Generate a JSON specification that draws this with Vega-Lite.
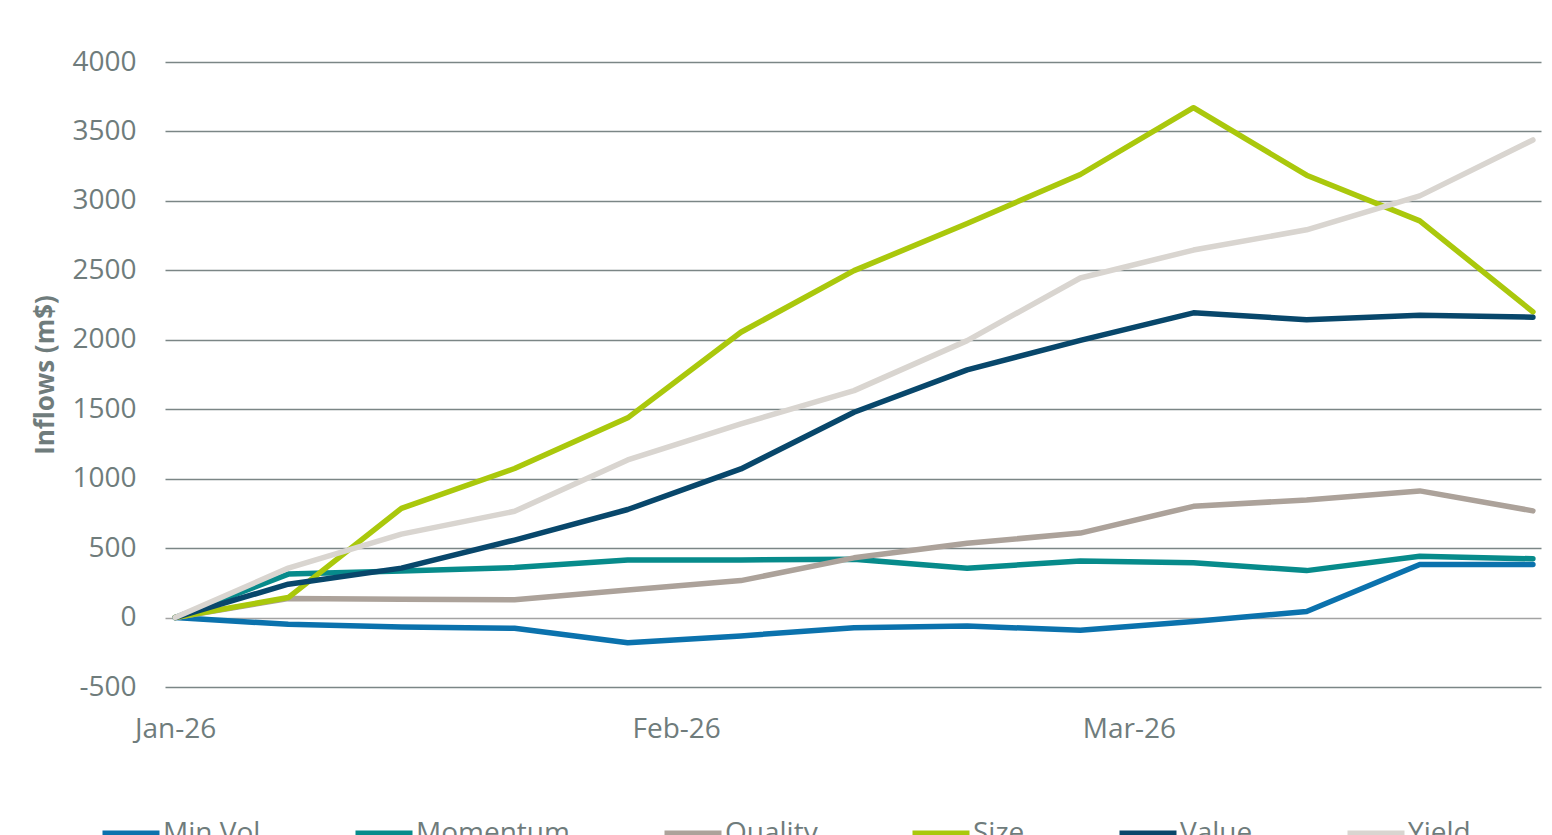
{
  "$schema": "https://vega.github.io/schema/vega-lite/v6.json",
  "width": 1376,
  "height": 625,
  "autosize": {"type": "none"},
  "padding": {"left": 165, "top": 62, "right": 11, "bottom": 148},
  "background": "#ffffff",
  "config": {
    "view": {"stroke": null},
    "font": "Open Sans",
    "axis": {"labelFont": "Open Sans", "titleFont": "Open Sans", "labelColor": "#6f7c7c", "titleColor": "#6f7c7c"},
    "legend": {"labelFont": "Open Sans"}
  },
  "data": {
    "values": [
      {"date": "2026-01-01", "Min Vol": 0, "Momentum": 0, "Quality": 0, "Size": 0, "Value": 0, "Yield": 0},
      {"date": "2026-01-08", "Min Vol": -49, "Momentum": 313, "Quality": 137, "Size": 144, "Value": 240, "Yield": 356},
      {"date": "2026-01-15", "Min Vol": -68, "Momentum": 336, "Quality": 132, "Size": 786, "Value": 356, "Yield": 601},
      {"date": "2026-01-22", "Min Vol": -77, "Momentum": 360, "Quality": 128, "Size": 1073, "Value": 558, "Yield": 765},
      {"date": "2026-01-29", "Min Vol": -182, "Momentum": 415, "Quality": 199, "Size": 1438, "Value": 778, "Yield": 1135},
      {"date": "2026-02-05", "Min Vol": -132, "Momentum": 415, "Quality": 266, "Size": 2054, "Value": 1070, "Yield": 1394},
      {"date": "2026-02-12", "Min Vol": -73, "Momentum": 420, "Quality": 430, "Size": 2498, "Value": 1478, "Yield": 1634},
      {"date": "2026-02-19", "Min Vol": -60, "Momentum": 355, "Quality": 535, "Size": 2837, "Value": 1783, "Yield": 1994},
      {"date": "2026-02-26", "Min Vol": -92, "Momentum": 408, "Quality": 608, "Size": 3190, "Value": 1996, "Yield": 2445},
      {"date": "2026-03-05", "Min Vol": -28, "Momentum": 395, "Quality": 801, "Size": 3671, "Value": 2194, "Yield": 2646},
      {"date": "2026-03-12", "Min Vol": 43, "Momentum": 338, "Quality": 847, "Size": 3185, "Value": 2145, "Yield": 2792},
      {"date": "2026-03-19", "Min Vol": 382, "Momentum": 441, "Quality": 912, "Size": 2856, "Value": 2176, "Yield": 3036},
      {"date": "2026-03-26", "Min Vol": 382, "Momentum": 423, "Quality": 768, "Size": 2201, "Value": 2163, "Yield": 3439}
    ]
  },
  "transform": [
    {"fold": ["Min Vol", "Momentum", "Quality", "Size", "Value", "Yield"], "as": ["factor", "inflow"]}
  ],
  "mark": {"type": "line", "strokeWidth": 5.5, "strokeCap": "round", "strokeJoin": "round"},
  "encoding": {
    "x": {
      "field": "date",
      "type": "temporal",
      "scale": {
        "type": "utc",
        "domain": [
          {"year": 2025, "month": 12, "date": 31, "hours": 9, "utc": true},
          {"year": 2026, "month": 3, "date": 26, "hours": 12, "utc": true}
        ]
      },
      "axis": {
        "values": [
          {"year": 2026, "month": 1, "date": 1, "utc": true},
          {"year": 2026, "month": 2, "date": 1, "utc": true},
          {"year": 2026, "month": 3, "date": 1, "utc": true}
        ],
        "labelExpr": "utcFormat(datum.value, '%b-%y')",
        "title": null,
        "grid": false,
        "domain": false,
        "ticks": false,
        "labelFontSize": 28,
        "labelPadding": 28,
        "labelFlush": false
      }
    },
    "y": {
      "field": "inflow",
      "type": "quantitative",
      "scale": {"domain": [-500, 4000], "nice": false, "zero": false},
      "axis": {
        "values": [-500, 0, 500, 1000, 1500, 2000, 2500, 3000, 3500, 4000],
        "labelExpr": "'' + datum.value",
        "title": "Inflows (m$)",
        "titleFontSize": 26,
        "titleFontWeight": "bold",
        "titleX": -120,
        "titleY": 312.5,
        "titleAngle": -90,
        "titleAlign": "center",
        "titleBaseline": "middle",
        "grid": true,
        "gridColor": {"condition": {"test": "datum.value === 0", "value": "#a3a3a3"}, "value": "#7b8686"},
        "gridWidth": 1.6,
        "domain": false,
        "ticks": false,
        "labelFontSize": 28,
        "labelPadding": 29
      }
    },
    "color": {
      "field": "factor",
      "type": "nominal",
      "sort": ["Min Vol", "Momentum", "Quality", "Size", "Value", "Yield"],
      "scale": {
        "domain": ["Min Vol", "Momentum", "Quality", "Size", "Value", "Yield"],
        "range": ["#0b72ad", "#078b8b", "#aca29a", "#aac80c", "#08476b", "#d9d5d0"]
      },
      "legend": {
        "title": null,
        "orient": "none",
        "legendX": -66,
        "legendY": 740,
        "direction": "horizontal",
        "columns": 6,
        "columnPadding": 80,
        "padding": 0,
        "symbolType": "stroke",
        "symbolSize": 3249,
        "symbolStrokeWidth": 7,
        "labelFontSize": 28,
        "labelColor": "#6f7c7c",
        "labelOffset": 0
      }
    }
  }
}
